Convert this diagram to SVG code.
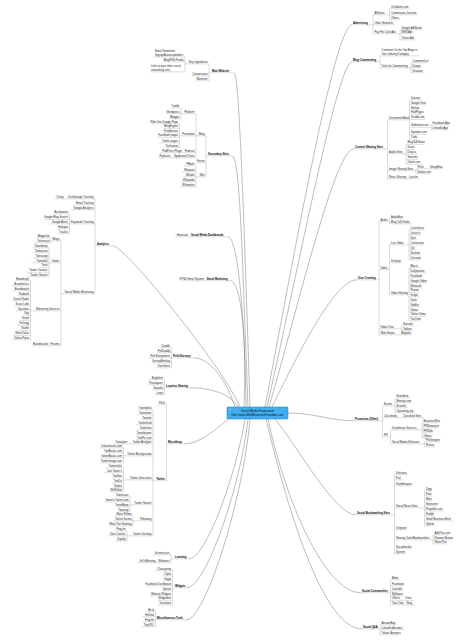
<svg xmlns="http://www.w3.org/2000/svg" width="459" height="640" viewBox="0 0 459 640">
<style>
text{font-family:"Liberation Sans",Arial,sans-serif;font-size:2.7px;fill:#222}
.e{text-anchor:end}
.b{font-weight:bold;fill:#000}
.c{text-anchor:middle;font-size:3px;fill:#111}
g path{fill:none;stroke:#9a9a9a;stroke-width:.35}
#connectors .m{stroke:#7a7a7a;stroke-width:.5}
</style>
<rect width="459" height="640" fill="#fff"/>
<g id="connectors">
<path class="m" d="M265 407C295 250 335 24.5 352 24.8"/>
<path class="m" d="M267 407C300 260 338 61.8 352 61.8"/>
<path class="m" d="M269 407C300 300 335 148.8 354 148.8"/>
<path class="m" d="M272 407C300 350 335 279.8 357 279.8"/>
<path class="m" d="M288 413C315 413 330 420.8 354 420.8"/>
<path class="m" d="M275 419C300 450 335 514.8 356 514.8"/>
<path class="m" d="M268 419C285 500 325 592.8 361 592.8"/>
<path class="m" d="M266 419C290 520 325 628.8 362 628.8"/>
<path class="m" d="M250 407C242 150 238 72.8 234 72.8"/>
<path class="m" d="M248 407C242 250 240 155.8 232 155.8"/>
<path class="m" d="M246 407C245 320 238 236.8 228 236.8"/>
<path class="m" d="M244 407C247 330 240 280.8 230.5 280.8"/>
<path class="m" d="M240 407C225 370 125 245.8 113 245.8"/>
<path class="m" d="M235 407C228 385 212 357.8 193.5 357.8"/>
<path class="m" d="M238 407C232 395 212 387.8 190.5 387.8"/>
<path class="m" d="M232 416C215 430 200 443.8 184 443.8"/>
<path class="m" d="M245 419C235 480 205 558.8 189 558.8"/>
<path class="m" d="M248 419C240 490 205 587.8 187 587.8"/>
<path class="m" d="M250 419C243 500 205 619.8 186.5 619.8"/>
<path d="M373 14.8V33.8M389.5 8.8V19.8M400 29.8V39.8"/>
<path d="M380 55.8V67.8M411 62.8V72.8"/>
<path d="M387.5 119.8V178.8M409.5 99.8V139.3M431 124.8V129.8M406 144.3V164.3M416 168.8V173.8"/>
<path d="M379 221.8V334.8M389.5 218.8V223.8M389.5 244.8V294.8M409 229.8V259.8M409 267.8V320.8M401.5 325.8V330.8"/>
<path d="M382.5 405.8V436.8M395 397.8V412.8M390.5 429.8V443.8M422 422.8V437.8M424.5 441.8V446.8"/>
<path d="M394.5 474.8V553.8M424.5 490.8V525.8M433 534.8V543.8"/>
<path d="M390.5 579.8V604.8M380 624.8V634.8"/>
<path d="M209 63.8V80.8M185 56.8V71.8"/>
<path d="M206 135.8V176.8M196 113.8V157.8M181 107.8V118.8M179.5 123.8V147.8M196 165.8V186.8"/>
<path d="M95 198.8V293.8M69.5 213.8V233.8M61 240.8V345.8M51 237.8V242.8M49 247.8V276.8M30.5 280.8V339.8"/>
<path d="M171.5 347.8V367.8M164.5 379.8V394.8"/>
<path d="M166.5 404.8V480.8M153 409.8V535.8M123.5 447.8V462.8M123.5 467.8V491.8M130 496.8V511.8M133 515.8V525.8M127 530.8V540.8"/>
<path d="M171 554.8V562.8M172.5 570.8V604.8M155.5 611.8V626.8"/>
</g>

<g id="advertising"><path d="M352 24.8H373"/><text class="b" x="353" y="23.9">Advertising</text></g>
<g id="affiliates"><path d="M373 14.8H389.5"/><text x="374.5" y="13.9">Affiliates</text></g>
<g id="clickbank"><path d="M389.5 8.8H409.5"/><text x="391" y="7.9">Clickbank.com</text></g>
<g id="cj"><path d="M389.5 14.8H417.5"/><text x="391" y="13.9">Commission Junction</text></g>
<g id="aff-others"><path d="M389.5 19.8H400"/><text x="391" y="18.9">Others</text></g>
<g id="other-networks"><path d="M373 24.8H395"/><text x="374.5" y="23.9">Other Networks</text></g>
<g id="ppc"><path d="M373 33.8H400"/><text x="374.5" y="32.9">Pay Per Click Ads</text></g>
<g id="adwords"><path d="M400 29.8H422"/><text x="401.5" y="28.9">Google AdWords</text></g>
<g id="msn"><path d="M400 33.8H412"/><text x="401.5" y="32.9">MSN Ads</text></g>
<g id="yahooads"><path d="M400 39.8H415"/><text x="401.5" y="38.9">Yahoo Ads</text></g>

<g id="blog-commenting"><path d="M352 61.8H380"/><text class="b" x="353" y="60.9">Blog Commenting</text></g>
<g id="comment-top"><path d="M380 55.8H419"/><text x="381.5" y="50.9">Comment On the Top Blogs in</text><text x="381.5" y="54.9">Your Industry/Category</text></g>
<g id="tools-commenting"><path d="M380 67.8H411"/><text x="381.5" y="66.9">Tools for Commenting</text></g>
<g id="commentluv"><path d="M411 62.8H427"/><text x="412.5" y="61.9">CommentLuv</text></g>
<g id="disqus"><path d="M411 67.8H422"/><text x="412.5" y="66.9">Disqus</text></g>
<g id="gravatar"><path d="M411 72.8H424.5"/><text x="412.5" y="71.9">Gravatar</text></g>

<g id="content-sharing"><path d="M354 148.8H387.5"/><text class="b" x="355" y="147.9">Content Sharing Sites</text></g>
<g id="document"><path d="M387.5 119.8H409.5"/><text x="389" y="118.9">Document/eBook</text></g>
<g id="docstoc"><path d="M409.5 99.8H421"/><text x="411" y="98.9">Docstoc</text></g>
<g id="knol"><path d="M409.5 104.8H426"/><text x="411" y="103.9">Google Knol</text></g>
<g id="helium"><path d="M409.5 109.8H420"/><text x="411" y="108.9">Helium</text></g>
<g id="hubpages"><path d="M409.5 114.3H422.5"/><text x="411" y="113.4">HubPages</text></g>
<g id="scribd"><path d="M409.5 119.3H425"/><text x="411" y="118.4">Scribd.com</text></g>
<g id="slideshare"><path d="M409.5 127.3H431"/><text x="411" y="126.4">Slideshare.net</text></g>
<g id="fbapp"><path d="M431 124.8H448.5"/><text x="432.5" y="123.9">Facebook App</text></g>
<g id="liapp"><path d="M431 129.8H448.5"/><text x="432.5" y="128.9">LinkedIn App</text></g>
<g id="squidoo"><path d="M409.5 134.3H426"/><text x="411" y="133.4">Squidoo.com</text></g>
<g id="yudu"><path d="M409.5 139.3H417.5"/><text x="411" y="138.4">Yudu</text></g>
<g id="audio-sites"><path d="M387.5 153.8H406"/><text x="389" y="152.9">Audio Sites</text></g>
<g id="btr"><path d="M406 144.3H424.5"/><text x="407.5" y="143.4">BlogTalkRadio</text></g>
<g id="gcast"><path d="M406 149.3H415"/><text x="407.5" y="148.4">Gcast</text></g>
<g id="dropio"><path d="M406 154.3H417.5"/><text x="407.5" y="153.4">Drop.io</text></g>
<g id="seesmic-a"><path d="M406 159.3H418"/><text x="407.5" y="158.4">Seesmic</text></g>
<g id="utterli"><path d="M406 164.3H422.5"/><text x="407.5" y="163.4">Utterli.com</text></g>
<g id="image-sharing"><path d="M387.5 170.8H416"/><text x="389" y="169.9">Image Sharing Sites</text></g>
<g id="flickr"><path d="M416 168.8H428.5"/><text x="417.5" y="167.9">Flickr</text></g>
<g id="smugmug"><path d="M428.5 168.8H440.5"/><text x="430" y="167.9">SmugMug</text></g>
<g id="kodak"><path d="M416 173.8H430"/><text x="417.5" y="172.9">Kodak.com</text></g>
<g id="music-sharing"><path d="M387.5 178.8H407"/><text x="389" y="177.9">Music Sharing</text></g>
<g id="lastfm"><path d="M407 178.8H419.5"/><text x="409" y="177.9">Last.fm</text></g>

<g id="user-creating"><path d="M357 279.8H379"/><text class="b" x="358" y="278.9">User Creating</text></g>
<g id="uc-audio"><path d="M379 221.8H389.5"/><text x="380.5" y="220.9">Audio</text></g>
<g id="audioboo"><path d="M389.5 218.8H403"/><text x="391" y="217.9">AudioBoo</text></g>
<g id="btr2"><path d="M389.5 223.8H412"/><text x="391" y="222.9">Blog Talk Radio</text></g>
<g id="uc-video"><path d="M379 269.8H389.5"/><text x="380.5" y="268.9">Video</text></g>
<g id="live-video"><path d="M389.5 244.8H409"/><text x="391" y="243.9">Live Video</text></g>
<g id="coveritlive"><path d="M409 229.8H425"/><text x="410.5" y="228.9">CoveritLive</text></g>
<g id="justintv"><path d="M409 234.8H421.5"/><text x="410.5" y="233.9">Justin.tv</text></g>
<g id="kyte"><path d="M409 239.8H417.5"/><text x="410.5" y="238.9">Kyte</text></g>
<g id="livestream"><path d="M409 244.8H424.5"/><text x="410.5" y="243.9">Livestream</text></g>
<g id="qik"><path d="M409 249.8H416"/><text x="410.5" y="248.9">Qik</text></g>
<g id="stickam"><path d="M409 254.8H421"/><text x="410.5" y="253.9">Stickam</text></g>
<g id="ustream"><path d="M409 259.8H421"/><text x="410.5" y="258.9">Ustream</text></g>
<g id="desktop"><path d="M389.5 262.8H402"/><text x="391" y="261.9">Desktop</text></g>
<g id="video-sharing"><path d="M389.5 294.8H409"/><text x="391" y="293.9">Video Sharing</text></g>
<g id="bliptv"><path d="M409 267.8H420.5"/><text x="410.5" y="266.9">Blip.tv</text></g>
<g id="dailymotion"><path d="M409 272.8H426"/><text x="410.5" y="271.9">Dailymotion</text></g>
<g id="vs-facebook"><path d="M409 277.8H422"/><text x="410.5" y="276.9">Facebook</text></g>
<g id="googlevideo"><path d="M409 282.8H427"/><text x="410.5" y="281.9">Google Video</text></g>
<g id="metacafe"><path d="M409 287.8H422"/><text x="410.5" y="286.9">Metacafe</text></g>
<g id="revver"><path d="M409 292.3H419"/><text x="410.5" y="291.4">Revver</text></g>
<g id="sclipo"><path d="M409 296.8H419"/><text x="410.5" y="295.9">Sclipo</text></g>
<g id="veoh"><path d="M409 301.8H417"/><text x="410.5" y="300.9">Veoh</text></g>
<g id="viddler"><path d="M409 306.8H420.5"/><text x="410.5" y="305.9">Viddler</text></g>
<g id="vimeo"><path d="M409 311.8H418"/><text x="410.5" y="310.9">Vimeo</text></g>
<g id="yahoovideo"><path d="M409 316.3H426"/><text x="410.5" y="315.4">Yahoo Video</text></g>
<g id="youtube"><path d="M409 320.8H420.5"/><text x="410.5" y="319.9">YouTube</text></g>
<g id="video-chat"><path d="M379 328.8H401.5"/><text x="380.5" y="327.9">Video Chat</text></g>
<g id="seesmic-v"><path d="M401.5 325.8H414"/><text x="403" y="324.9">Seesmic</text></g>
<g id="tokbox"><path d="M401.5 330.8H413"/><text x="403" y="329.9">Tokbox</text></g>
<g id="web-shows"><path d="M379 334.8H399"/><text x="380.5" y="333.9">Web Shows</text></g>
<g id="mogulus"><path d="M399 334.8H412"/><text x="401" y="333.9">Mogulus</text></g>

<g id="promotion-other"><path d="M354 420.8H382.5"/><text class="b" x="355" y="419.9">Promotion (Other)</text></g>
<g id="events"><path d="M382.5 405.8H395"/><text x="384" y="404.9">Events</text></g>
<g id="eventbrite"><path d="M395 397.8H410"/><text x="396.5" y="396.9">Eventbrite</text></g>
<g id="meetup"><path d="M395 402.8H411"/><text x="396.5" y="401.9">Meetup.com</text></g>
<g id="eventful"><path d="M395 407.8H408"/><text x="396.5" y="406.9">Eventful</text></g>
<g id="upcoming"><path d="M395 412.8H413"/><text x="396.5" y="411.9">Upcoming.org</text></g>
<g id="classifieds"><path d="M382.5 417.8H401"/><text x="384" y="416.9">Classifieds</text></g>
<g id="classified-sites"><path d="M401 417.8H424"/><text x="403" y="416.9">Classified Sites</text></g>
<g id="pr"><path d="M382.5 436.8H390.5"/><text x="384" y="435.9">PR</text></g>
<g id="distribution"><path d="M390.5 429.8H422"/><text x="392" y="428.9">Distribution Services</text></g>
<g id="businesswire"><path d="M422 422.8H439.5"/><text x="423.5" y="421.9">BusinessWire</text></g>
<g id="prnewswire"><path d="M422 427.8H438"/><text x="423.5" y="426.9">PRNewswire</text></g>
<g id="prweb"><path d="M422 432.8H433"/><text x="423.5" y="431.9">PRWeb</text></g>
<g id="pr-others"><path d="M422 437.8H432.5"/><text x="423.5" y="436.9">Others</text></g>
<g id="sm-releases"><path d="M390.5 443.8H424.5"/><text x="392" y="442.9">Social Media Releases</text></g>
<g id="pitchengine"><path d="M424.5 441.8H440"/><text x="426" y="440.9">Pitchengine</text></g>
<g id="pressit"><path d="M424.5 446.8H435"/><text x="426" y="445.9">Pressit</text></g>

<g id="social-bookmarking"><path d="M356 514.8H394.5"/><text class="b" x="357" y="513.9">Social Bookmarking Sites</text></g>
<g id="delicious"><path d="M394.5 474.8H408"/><text x="396" y="473.9">Delicious</text></g>
<g id="furl"><path d="M394.5 479.8H403"/><text x="396" y="478.9">Furl</text></g>
<g id="stumbleupon"><path d="M394.5 485.8H412"/><text x="396" y="484.9">Stumbleupon</text></g>
<g id="social-news"><path d="M394.5 507.8H424.5"/><text x="396" y="506.9">Social News Sites</text></g>
<g id="digg"><path d="M424.5 490.8H432"/><text x="426" y="489.9">Digg</text></g>
<g id="fark"><path d="M424.5 495.8H432"/><text x="426" y="494.9">Fark</text></g>
<g id="mixx"><path d="M424.5 500.8H432"/><text x="426" y="499.9">Mixx</text></g>
<g id="newsvine"><path d="M424.5 505.8H437"/><text x="426" y="504.9">Newsvine</text></g>
<g id="propeller"><path d="M424.5 510.8H444"/><text x="426" y="509.9">Propeller.com</text></g>
<g id="reddit"><path d="M424.5 515.8H434.5"/><text x="426" y="514.9">Reddit</text></g>
<g id="sbb"><path d="M424.5 520.8H453"/><text x="426" y="519.9">Small Business Brief</text></g>
<g id="sphinn"><path d="M424.5 525.8H434.5"/><text x="426" y="524.9">Sphinn</text></g>
<g id="onlywire"><path d="M394.5 529.8H407.5"/><text x="396" y="528.9">Onlywire</text></g>
<g id="sharing-tools"><path d="M394.5 539.8H433"/><text x="396" y="538.9">Sharing Tools/Bookmarklets</text></g>
<g id="addthis"><path d="M433 534.8H448"/><text x="434.5" y="533.9">AddThis.com</text></g>
<g id="retweet"><path d="M433 539.8H453"/><text x="434.5" y="538.9">Retweet Button</text></g>
<g id="sharethis"><path d="M433 543.8H446"/><text x="434.5" y="542.9">ShareThis</text></g>
<g id="socialmarker"><path d="M394.5 548.8H412"/><text x="396" y="547.9">Socialmarker</text></g>
<g id="spinner"><path d="M394.5 553.8H406"/><text x="396" y="552.9">Spinner</text></g>

<g id="social-communities"><path d="M361 592.8H390.5"/><text class="b" x="362" y="591.9">Social Communities</text></g>
<g id="bebo"><path d="M390.5 579.8H399.5"/><text x="392" y="578.9">Bebo</text></g>
<g id="sc-facebook"><path d="M390.5 585.8H404"/><text x="392" y="584.9">Facebook</text></g>
<g id="linkedin"><path d="M390.5 590.8H403"/><text x="392" y="589.9">LinkedIn</text></g>
<g id="myspace"><path d="M390.5 595.8H403"/><text x="392" y="594.9">MySpace</text></g>
<g id="sc-others"><path d="M390.5 600.3H403.5"/><text x="392" y="599.4">Others</text></g>
<g id="orkut"><path d="M403.5 600.3H413"/><text x="405" y="599.4">Orkut</text></g>
<g id="your-own"><path d="M390.5 604.8H404.5"/><text x="392" y="603.9">Your Own</text></g>
<g id="ning"><path d="M404.5 604.8H415"/><text x="406.5" y="603.9">Ning</text></g>

<g id="social-qa"><path d="M362 628.8H380"/><text class="b" x="363" y="627.9">Social Q&amp;A</text></g>
<g id="answerbag"><path d="M380 624.8H395"/><text x="381.5" y="623.9">AnswerBag</text></g>
<g id="li-answers"><path d="M380 629.8H403.5"/><text x="381.5" y="628.9">LinkedIn Answers</text></g>
<g id="yahoo-answers"><path d="M380 634.8H400"/><text x="381.5" y="633.9">Yahoo! Answers</text></g>

<g id="main-website"><path d="M209 72.8H234"/><text class="b" x="212" y="71.9">Main Website</text></g>
<g id="key-ingredients"><path d="M185 63.8H209"/><text class="e" x="207.5" y="62.9">Key Ingredients</text></g>
<g id="email-newsletter"><path d="M153.5 56.8H185"/><text x="155" y="51.9">Email Newsletter</text><text x="155" y="55.9">Signup/Autoresponders</text></g>
<g id="blog-rss"><path d="M163 61.8H185"/><text class="e" x="183.5" y="60.9">Blog/RSS Feeds</text></g>
<g id="links-social"><path d="M150 71.8H185"/><text x="151" y="66.9">Links to your other social</text><text x="151" y="70.9">networking sites</text></g>
<g id="conversions"><path d="M191.5 75.8H209"/><text class="e" x="207.5" y="74.9">Conversions</text></g>
<g id="monetize"><path d="M195.5 80.8H209"/><text class="e" x="207.5" y="79.9">Monetize</text></g>

<g id="secondary-sites"><path d="M206 155.8H232"/><text class="b" x="208" y="154.9">Secondary Sites</text></g>
<g id="ss-blog"><path d="M196 135.8H206"/><text class="e" x="204.5" y="134.9">Blog</text></g>
<g id="platform"><path d="M181 113.8H196"/><text class="e" x="194.5" y="112.9">Platform</text></g>
<g id="tumblr"><path d="M171 107.8H181"/><text class="e" x="179.5" y="106.9">Tumblr</text></g>
<g id="wordpress"><path d="M166 113.8H181"/><text class="e" x="179.5" y="112.9">Wordpress</text></g>
<g id="blogger"><path d="M170 118.8H181"/><text class="e" x="179.5" y="117.9">Blogger</text></g>
<g id="ss-promotion"><path d="M179.5 135.8H196"/><text class="e" x="194.5" y="134.9">Promotion</text></g>
<g id="webone"><path d="M152 123.8H179.5"/><text class="e" x="178" y="122.9">Web One Google Page</text></g>
<g id="blogengine"><path d="M163.5 128.3H179.5"/><text class="e" x="178" y="127.4">BlogEngine</text></g>
<g id="feedburner"><path d="M163.5 132.8H179.5"/><text class="e" x="178" y="131.9">Feedburner</text></g>
<g id="fbpages"><path d="M157.5 137.3H179.5"/><text class="e" x="178" y="136.4">Facebook pages</text></g>
<g id="twpages"><path d="M159 142.8H179.5"/><text class="e" x="178" y="141.9">Twitter pages</text></g>
<g id="technorati"><path d="M163.5 147.8H179.5"/><text class="e" x="178" y="146.9">Technorati</text></g>
<g id="podcast"><path d="M183.5 152.8H196"/><text class="e" x="194.5" y="151.9">Podcast</text></g>
<g id="podpress"><path d="M160 152.8H183.5"/><text class="e" x="182" y="151.9">PodPress Plugin</text></g>
<g id="syndicate"><path d="M172 157.8H196"/><text class="e" x="194.5" y="156.9">Syndicate/iTunes</text></g>
<g id="podcasts"><path d="M158 157.8H172"/><text class="e" x="170.5" y="156.9">Podcasts</text></g>
<g id="forum"><path d="M196 162.8H206"/><text class="e" x="204.5" y="161.9">Forum</text></g>
<g id="wiki"><path d="M196 176.8H206"/><text class="e" x="204.5" y="175.9">Wiki</text></g>
<g id="pbwiki"><path d="M184 165.8H196"/><text class="e" x="194.5" y="164.9">PBwiki</text></g>
<g id="wetpaint"><path d="M182 171.8H196"/><text class="e" x="194.5" y="170.9">Wetpaint</text></g>
<g id="wikidot"><path d="M183 176.8H196"/><text class="e" x="194.5" y="175.9">Wikidot</text></g>
<g id="wikipedia"><path d="M181 181.8H196"/><text class="e" x="194.5" y="180.9">Wikipedia</text></g>
<g id="wikimatrix"><path d="M180 186.8H196"/><text class="e" x="194.5" y="185.9">Wikimatrix</text></g>

<g id="analytics"><path d="M95 245.8H113"/><text class="b" x="97" y="244.9">Analytics</text></g>
<g id="clickthrough"><path d="M65 198.8H95"/><text class="e" x="93.5" y="197.9">Clickthrough Tracking</text></g>
<g id="clicky"><path d="M55 198.8H65"/><text class="e" x="63.5" y="197.9">Clicky</text></g>
<g id="email-tracking"><path d="M73.5 204.8H95"/><text class="e" x="93.5" y="203.9">Email Tracking</text></g>
<g id="google-analytics"><path d="M71 209.8H95"/><text class="e" x="93.5" y="208.9">Google Analytics</text></g>
<g id="keywords"><path d="M69.5 223.8H95"/><text class="e" x="93.5" y="222.9">Keywords Tracking</text></g>
<g id="backtweets"><path d="M53 213.8H69.5"/><text class="e" x="68" y="212.9">Backtweets</text></g>
<g id="gblogsearch"><path d="M44 219.3H69.5"/><text class="e" x="68" y="218.4">Google Blog Search</text></g>
<g id="galerts"><path d="M50 223.8H69.5"/><text class="e" x="68" y="222.9">Google Alerts</text></g>
<g id="hubspot"><path d="M57 228.8H69.5"/><text class="e" x="68" y="227.9">Hubspot</text></g>
<g id="trackur"><path d="M58 233.8H69.5"/><text class="e" x="68" y="232.9">Trackur</text></g>
<g id="smm"><path d="M61 293.8H95"/><text class="e" x="93.5" y="292.9">Social Media Monitoring</text></g>
<g id="smm-blogs"><path d="M51 240.8H61"/><text class="e" x="59.5" y="239.9">Blogs</text></g>
<g id="blogpulse"><path d="M36 237.8H51"/><text class="e" x="49.5" y="236.9">Blogpulse</text></g>
<g id="smm-technorati"><path d="M34 242.8H51"/><text class="e" x="49.5" y="241.9">Technorati</text></g>
<g id="smm-twitter"><path d="M49 262.8H61"/><text class="e" x="59.5" y="261.9">Twitter</text></g>
<g id="m-tweetbeep"><path d="M33 247.8H49"/><text class="e" x="47.5" y="246.9">Tweetbeep</text></g>
<g id="m-tweetscan"><path d="M33 252.8H49"/><text class="e" x="47.5" y="251.9">Tweetscan</text></g>
<g id="twitscoop"><path d="M33 257.8H49"/><text class="e" x="47.5" y="256.9">Twitscoop</text></g>
<g id="twitterfall"><path d="M31.5 262.8H49"/><text class="e" x="47.5" y="261.9">Twitterfall</text></g>
<g id="twist"><path d="M40 267.3H49"/><text class="e" x="47.5" y="266.4">Twist</text></g>
<g id="twcounter"><path d="M26 272.3H49"/><text class="e" x="47.5" y="271.4">Twitter Counter</text></g>
<g id="twsearch-m"><path d="M27.5 276.8H49"/><text class="e" x="47.5" y="275.9">Twitter Search</text></g>
<g id="monitoring-services"><path d="M30.5 310.8H61"/><text class="e" x="59.5" y="309.9">Monitoring Services</text></g>
<g id="brandseye"><path d="M15 280.8H30.5"/><text class="e" x="29" y="279.9">Brandseye</text></g>
<g id="buzzmetrics"><path d="M12 285.8H30.5"/><text class="e" x="29" y="284.9">Buzzmetrics</text></g>
<g id="brandwatch"><path d="M13 290.8H30.5"/><text class="e" x="29" y="289.9">Brandwatch</text></g>
<g id="radian6"><path d="M17 295.8H30.5"/><text class="e" x="29" y="294.9">Radian6</text></g>
<g id="socialradar"><path d="M12 300.8H30.5"/><text class="e" x="29" y="299.9">Social Radar</text></g>
<g id="scoutlabs"><path d="M14 305.8H30.5"/><text class="e" x="29" y="304.9">Scout Labs</text></g>
<g id="sysomos"><path d="M16 310.8H30.5"/><text class="e" x="29" y="309.9">Sysomos</text></g>
<g id="spy"><path d="M23 315.3H30.5"/><text class="e" x="29" y="314.4">Spy</text></g>
<g id="serph"><path d="M20 320.3H30.5"/><text class="e" x="29" y="319.4">Serph</text></g>
<g id="techrigy"><path d="M17 325.3H30.5"/><text class="e" x="29" y="324.4">Techrigy</text></g>
<g id="visible"><path d="M18.5 330.3H30.5"/><text class="e" x="29" y="329.4">Visible</text></g>
<g id="whostalkin"><path d="M13 335.3H30.5"/><text class="e" x="29" y="334.4">WhosTalkin</text></g>
<g id="yahoopipes"><path d="M12 339.8H30.5"/><text class="e" x="29" y="338.9">Yahoo Pipes</text></g>
<g id="forums"><path d="M50 345.8H61"/><text class="e" x="59.5" y="344.9">Forums</text></g>
<g id="boardtracker"><path d="M32 345.8H50"/><text class="e" x="48.5" y="344.9">Boardtracker</text></g>

<g id="sm-dashboards"><path d="M189.5 236.8H228"/><text class="b" x="191" y="235.9">Social Media Dashboards</text></g>
<g id="hootsuite"><path d="M175 236.8H189.5"/><text class="e" x="188" y="235.9">Hootsuite</text></g>
<g id="email-marketing"><path d="M205.5 280.8H230.5"/><text class="b" x="207" y="279.9">Email Marketing</text></g>
<g id="html-email"><path d="M180.5 280.8H205.5"/><text class="e" x="204" y="279.9">HTML Email System</text></g>

<g id="polls"><path d="M171.5 357.8H193.5"/><text class="b" x="173" y="356.9">Polls/Surveys</text></g>
<g id="doodle"><path d="M160 347.8H171.5"/><text class="e" x="170" y="346.9">Doodle</text></g>
<g id="polldaddy"><path d="M157 352.8H171.5"/><text class="e" x="170" y="351.9">PollDaddy</text></g>
<g id="polleverywhere"><path d="M149 357.8H171.5"/><text class="e" x="170" y="356.9">Poll Everywhere</text></g>
<g id="surveymonkey"><path d="M151.5 362.8H171.5"/><text class="e" x="170" y="361.9">SurveyMonkey</text></g>
<g id="uservoice"><path d="M156 367.8H171.5"/><text class="e" x="170" y="366.9">UserVoice</text></g>

<g id="location-sharing"><path d="M164.5 387.8H190.5"/><text class="b" x="166" y="386.9">Location Sharing</text></g>
<g id="brightkite"><path d="M148 379.8H164.5"/><text class="e" x="163" y="378.9">Brightkite</text></g>
<g id="foursquare"><path d="M148 384.8H164.5"/><text class="e" x="163" y="383.9">Foursquare</text></g>
<g id="gowalla"><path d="M152 389.8H164.5"/><text class="e" x="163" y="388.9">Gowalla</text></g>
<g id="loopt"><path d="M155 394.8H164.5"/><text class="e" x="163" y="393.9">Loopt</text></g>

<g id="microblogs"><path d="M166.5 443.8H184"/><text class="b" x="168" y="442.9">Microblogs</text></g>
<g id="plurk"><path d="M157.5 404.8H166.5"/><text class="e" x="165" y="403.9">Plurk</text></g>
<g id="twitter"><path d="M153 480.8H166.5"/><text class="e b" x="165" y="479.9">Twitter</text></g>
<g id="tweetdeck"><path d="M138.5 409.8H153"/><text class="e" x="151.5" y="408.9">Tweetdeck</text></g>
<g id="tweetlater"><path d="M137 414.8H153"/><text class="e" x="151.5" y="413.9">Tweetlater</text></g>
<g id="tweetie"><path d="M141 419.8H153"/><text class="e" x="151.5" y="418.9">Tweetie</text></g>
<g id="twitterfeed"><path d="M136 424.8H153"/><text class="e" x="151.5" y="423.9">Twitterfeed</text></g>
<g id="twitterfon"><path d="M137 429.8H153"/><text class="e" x="151.5" y="428.9">Twitterfon</text></g>
<g id="tweetburner"><path d="M136 434.8H153"/><text class="e" x="151.5" y="433.9">Tweetburner</text></g>
<g id="twitpic"><path d="M136 439.8H153"/><text class="e" x="151.5" y="438.9">TwitPic.com</text></g>
<g id="tw-analyzer"><path d="M129 443.8H153"/><text class="e" x="151.5" y="442.9">Twitter Analyzer</text></g>
<g id="twitalyzer"><path d="M113 443.8H129"/><text class="e" x="127.5" y="442.9">Twitalyzer</text></g>
<g id="tw-backgrounds"><path d="M123.5 455.8H153"/><text class="e" x="151.5" y="454.9">Twitter Backgrounds</text></g>
<g id="colourlovers"><path d="M100 447.8H123.5"/><text class="e" x="122" y="446.9">Colourlovers.com</text></g>
<g id="twitbacks"><path d="M103.5 452.8H123.5"/><text class="e" x="122" y="451.9">TwitBacks.com</text></g>
<g id="twitterbacks"><path d="M100 457.8H123.5"/><text class="e" x="122" y="456.9">TwitterBacks.com</text></g>
<g id="twitterimage"><path d="M100 462.8H123.5"/><text class="e" x="122" y="461.9">TwitterImage.com</text></g>
<g id="tw-directories"><path d="M123.5 479.8H153"/><text class="e" x="151.5" y="478.9">Twitter Directories</text></g>
<g id="twitterholic"><path d="M105.5 467.8H123.5"/><text class="e" x="122" y="466.9">Twitterholic</text></g>
<g id="justtweetit"><path d="M104 472.8H123.5"/><text class="e" x="122" y="471.9">Just Tweet It</text></g>
<g id="twellow"><path d="M112 477.8H123.5"/><text class="e" x="122" y="476.9">Twellow</text></g>
<g id="twitdir"><path d="M112 482.8H123.5"/><text class="e" x="122" y="481.9">TwitDir</text></g>
<g id="twibes"><path d="M113 487.8H123.5"/><text class="e" x="122" y="486.9">Twibes</text></g>
<g id="wefollow"><path d="M110.5 491.8H123.5"/><text class="e" x="122" y="490.9">WeFollow</text></g>
<g id="tw-search"><path d="M130 504.8H153"/><text class="e" x="151.5" y="503.9">Twitter Search</text></g>
<g id="tweetscan"><path d="M116 496.8H130"/><text class="e" x="128.5" y="495.9">Tweetscan</text></g>
<g id="searchtwitter"><path d="M104.5 501.8H130"/><text class="e" x="128.5" y="500.9">Search.Twitter.com</text></g>
<g id="tweetbeep"><path d="M116 506.8H130"/><text class="e" x="128.5" y="505.9">TweetBeep</text></g>
<g id="twazzup"><path d="M118.5 511.8H130"/><text class="e" x="128.5" y="510.9">Twazzup</text></g>
<g id="following"><path d="M133 520.8H153"/><text class="e" x="151.5" y="519.9">Following</text></g>
<g id="massfollow"><path d="M115 515.8H133"/><text class="e" x="131.5" y="514.9">Mass Follow</text></g>
<g id="twkarma"><path d="M113 520.8H133"/><text class="e" x="131.5" y="519.9">Twitter Karma</text></g>
<g id="hashtag"><path d="M109 525.8H133"/><text class="e" x="131.5" y="524.9">What The Hashtag</text></g>
<g id="tw-desktop"><path d="M127 535.8H153"/><text class="e" x="151.5" y="534.9">Twitter Desktop</text></g>
<g id="pingfm"><path d="M114.5 530.8H127"/><text class="e" x="125.5" y="529.9">Ping.fm</text></g>
<g id="chatcatcher"><path d="M108 535.8H127"/><text class="e" x="125.5" y="534.9">Chat Catcher</text></g>
<g id="digsby"><path d="M116 540.8H127"/><text class="e" x="125.5" y="539.9">Digsby</text></g>

<g id="learning"><path d="M171 558.8H189"/><text class="b" x="175" y="557.9">Learning</text></g>
<g id="screencasts"><path d="M153 554.8H171"/><text class="e" x="169.5" y="553.9">Screencasts</text></g>
<g id="webinars"><path d="M157 562.8H171"/><text class="e" x="169.5" y="561.9">Webinars</text></g>
<g id="gotomeeting"><path d="M137 562.8H157"/><text class="e" x="155.5" y="561.9">GoToMeeting</text></g>

<g id="widgets"><path d="M172.5 587.8H187"/><text class="b" x="175" y="586.9">Widgets</text></g>
<g id="clearspring"><path d="M155 570.8H172.5"/><text class="e" x="171" y="569.9">Clearspring</text></g>
<g id="clipta"><path d="M162 575.8H172.5"/><text class="e" x="171" y="574.9">Clipta</text></g>
<g id="gigya"><path d="M163 580.8H172.5"/><text class="e" x="171" y="579.9">Gigya</text></g>
<g id="fbdashboard"><path d="M146 585.8H172.5"/><text class="e" x="171" y="584.9">Facebook Dashboard</text></g>
<g id="sprout"><path d="M162 590.8H172.5"/><text class="e" x="171" y="589.9">Sprout</text></g>
<g id="websitewidgets"><path d="M150 595.8H172.5"/><text class="e" x="171" y="594.9">Website Widgets</text></g>
<g id="widgetbox"><path d="M158 600.3H172.5"/><text class="e" x="171" y="599.4">Widgetbox</text></g>
<g id="yourminis"><path d="M158 604.8H172.5"/><text class="e" x="171" y="603.9">Yourminis</text></g>

<g id="misc-tools"><path d="M155.5 619.8H186.5"/><text class="b" x="157" y="618.9">Miscellaneous Tools</text></g>
<g id="bitly"><path d="M146 611.8H155.5"/><text class="e" x="154" y="610.9">Bit.ly</text></g>
<g id="hellotxt"><path d="M142 616.8H155.5"/><text class="e" x="154" y="615.9">Hellotxt</text></g>
<g id="pingfm2"><path d="M143 621.8H155.5"/><text class="e" x="154" y="620.9">Ping.fm</text></g>
<g id="tinyurl"><path d="M142 626.8H155.5"/><text class="e" x="154" y="625.9">TinyURL</text></g>

<g id="center">
<rect x="227" y="407" width="61" height="12" rx="1" fill="#41aef0" stroke="#1b78bd" stroke-width=".5"/>
<circle cx="230" cy="409.5" r="1.1" fill="#c8c8c8" stroke="#777" stroke-width=".3"/>
<text class="c" x="257.5" y="412">Social Media Framework</text>
<text class="c" x="257.5" y="416.3">http://www.iWebBusinessFreedom.com</text>
</g>
</svg>
